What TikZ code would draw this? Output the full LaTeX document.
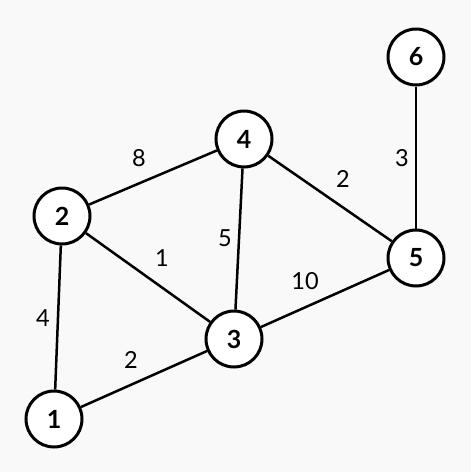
\documentclass[tikz,border=0pt]{standalone}
\usepackage{fontspec}
\setmainfont{Lato}
\definecolor{bgcol}{RGB}{249,249,249}
\tikzset{
  vertex/.style={circle, draw, line width=3pt, fill=white, minimum size=56pt, inner sep=0pt,
    font=\fontsize{25}{29}\selectfont\bfseries},
  link/.style={line width=2.5pt},
  wt/.style={font=\fontsize{23.5}{28}\selectfont, inner sep=0pt}
}
\begin{document}
\begin{tikzpicture}[x=1pt, y=-1pt]
  \fill[bgcol] (0,0) rectangle (471,472);
  \useasboundingbox (0,0) rectangle (471,472);
  % vertices
  \node[vertex] (n1) at (54,419) {1};
  \node[vertex] (n2) at (62,216) {2};
  \node[vertex] (n3) at (234,339) {3};
  \node[vertex] (n4) at (244,139) {4};
  \node[vertex] (n5) at (416,258) {5};
  \node[vertex] (n6) at (416,57) {6};
  % weighted edges
  \draw[link] (n2) -- node[wt, xshift=-14pt, yshift=19.5pt] {8} (n4);
  \draw[link] (n2) -- node[wt, xshift=14pt, yshift=19.5pt] {1} (n3);
  \draw[link] (n4) -- node[wt, xshift=-14pt, yshift=1pt] {5} (n3);
  \draw[link] (n4) -- node[wt, xshift=13pt, yshift=19.5pt] {2} (n5);
  \draw[link] (n6) -- node[wt, xshift=-14pt, yshift=-0.5pt] {3} (n5);
  \draw[link] (n3) -- node[wt, xshift=-20pt, yshift=17.5pt] {10} (n5);
  \draw[link] (n2) -- node[wt, xshift=-15pt, yshift=-0.5pt] {4} (n1);
  \draw[link] (n1) -- node[wt, xshift=-13pt, yshift=19pt] {2} (n3);
\end{tikzpicture}
\end{document}
